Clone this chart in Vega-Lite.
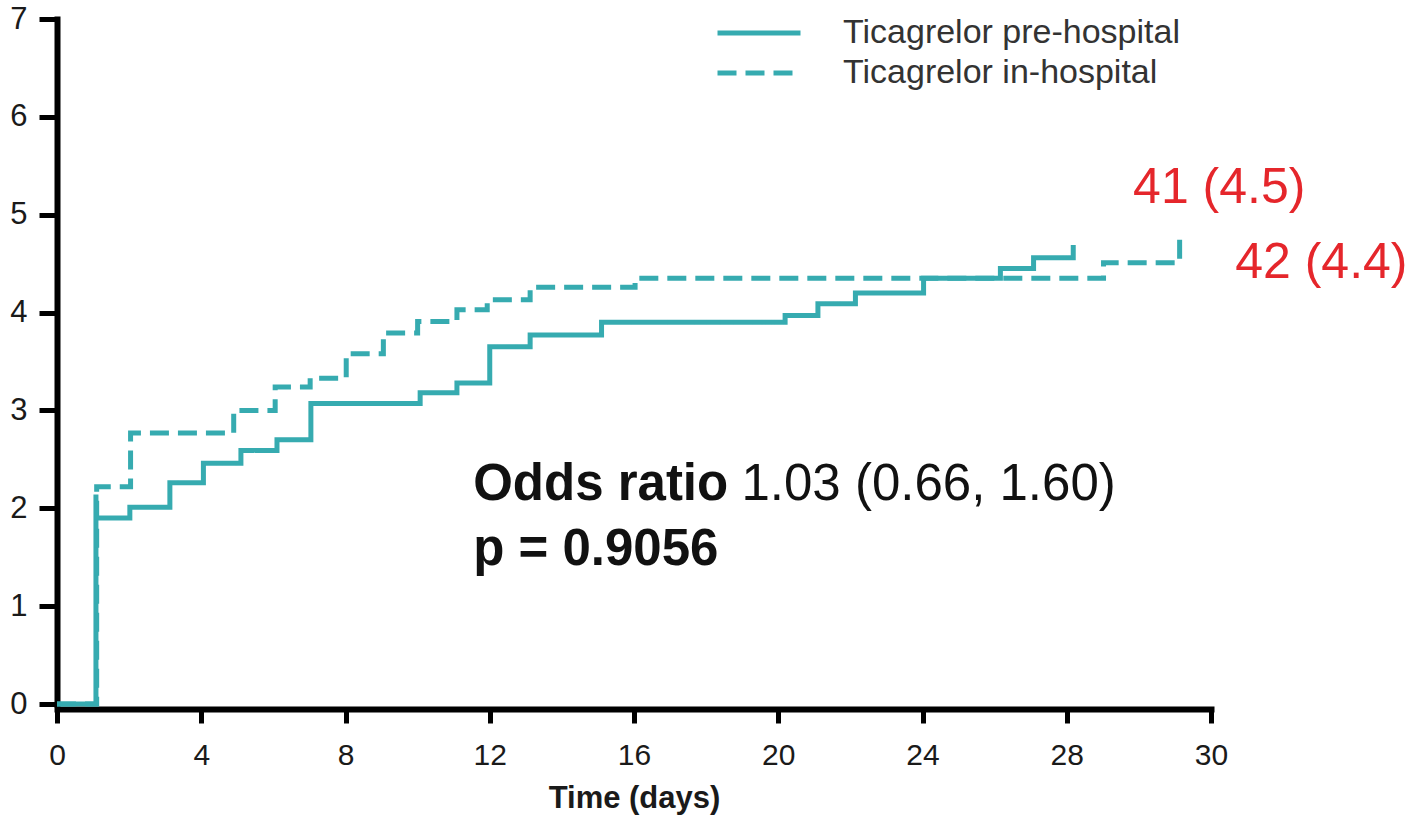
{
  "$schema": "https://vega.github.io/schema/vega-lite/v6.json",
  "width": 1154,
  "height": 685,
  "autosize": {"type": "none"},
  "padding": {"left": 57, "top": 19, "right": 211, "bottom": 118},
  "background": "white",
  "config": {"view": {"stroke": null}, "font": "Liberation Sans"},
  "layer": [
    {
      "data": {
        "values": [
          {"group": "Ticagrelor pre-hospital", "i": 0, "t": 0, "v": 0},
          {"group": "Ticagrelor pre-hospital", "i": 1, "t": 1.08, "v": 2.14},
          {"group": "Ticagrelor pre-hospital", "i": 2, "t": 1.08, "v": 1.9},
          {"group": "Ticagrelor pre-hospital", "i": 3, "t": 2.02, "v": 2.01},
          {"group": "Ticagrelor pre-hospital", "i": 4, "t": 3.13, "v": 2.26},
          {"group": "Ticagrelor pre-hospital", "i": 5, "t": 4.06, "v": 2.46},
          {"group": "Ticagrelor pre-hospital", "i": 6, "t": 5.1, "v": 2.59},
          {"group": "Ticagrelor pre-hospital", "i": 7, "t": 6.1, "v": 2.7},
          {"group": "Ticagrelor pre-hospital", "i": 8, "t": 7.04, "v": 3.07},
          {"group": "Ticagrelor pre-hospital", "i": 9, "t": 10.07, "v": 3.18},
          {"group": "Ticagrelor pre-hospital", "i": 10, "t": 11.09, "v": 3.28},
          {"group": "Ticagrelor pre-hospital", "i": 11, "t": 12.0, "v": 3.65},
          {"group": "Ticagrelor pre-hospital", "i": 12, "t": 13.12, "v": 3.77},
          {"group": "Ticagrelor pre-hospital", "i": 13, "t": 15.1, "v": 3.9},
          {"group": "Ticagrelor pre-hospital", "i": 14, "t": 20.19, "v": 3.97},
          {"group": "Ticagrelor pre-hospital", "i": 15, "t": 21.1, "v": 4.09},
          {"group": "Ticagrelor pre-hospital", "i": 16, "t": 22.14, "v": 4.2},
          {"group": "Ticagrelor pre-hospital", "i": 17, "t": 24.03, "v": 4.35},
          {"group": "Ticagrelor pre-hospital", "i": 18, "t": 26.16, "v": 4.45},
          {"group": "Ticagrelor pre-hospital", "i": 19, "t": 27.08, "v": 4.56},
          {"group": "Ticagrelor pre-hospital", "i": 20, "t": 28.18, "v": 4.69},
          {"group": "Ticagrelor in-hospital", "i": 0, "t": 0, "v": 0},
          {"group": "Ticagrelor in-hospital", "i": 1, "t": 1.1, "v": 2.22},
          {"group": "Ticagrelor in-hospital", "i": 2, "t": 2.04, "v": 2.77},
          {"group": "Ticagrelor in-hospital", "i": 3, "t": 4.9, "v": 3.0},
          {"group": "Ticagrelor in-hospital", "i": 4, "t": 6.05, "v": 3.24},
          {"group": "Ticagrelor in-hospital", "i": 5, "t": 7.02, "v": 3.33},
          {"group": "Ticagrelor in-hospital", "i": 6, "t": 8.02, "v": 3.58},
          {"group": "Ticagrelor in-hospital", "i": 7, "t": 9.05, "v": 3.79},
          {"group": "Ticagrelor in-hospital", "i": 8, "t": 10.0, "v": 3.91},
          {"group": "Ticagrelor in-hospital", "i": 9, "t": 11.09, "v": 4.03},
          {"group": "Ticagrelor in-hospital", "i": 10, "t": 11.93, "v": 4.13},
          {"group": "Ticagrelor in-hospital", "i": 11, "t": 13.12, "v": 4.26},
          {"group": "Ticagrelor in-hospital", "i": 12, "t": 16.03, "v": 4.35},
          {"group": "Ticagrelor in-hospital", "i": 13, "t": 29.02, "v": 4.51},
          {"group": "Ticagrelor in-hospital", "i": 14, "t": 31.13, "v": 4.78}
        ]
      },
      "mark": {"type": "line", "interpolate": "step-after", "strokeWidth": 5, "color": "#36ABB0", "strokeCap": "butt", "clip": false},
      "encoding": {
        "x": {
          "field": "t", "type": "quantitative",
          "scale": {"domain": [0, 32], "nice": false, "zero": false},
          "axis": {
            "values": [0, 4, 8, 12, 16, 20, 24, 28, 32],
            "labelExpr": "datum.value == 32 ? '30' : datum.label",
            "title": "Time (days)",
            "titleFontSize": 31, "titleFontWeight": "bold", "titleColor": "#1a1a1a", "titleFont": "Liberation Sans", "titlePadding": 13,
            "labelFontSize": 30, "labelColor": "#1a1a1a", "labelFont": "Liberation Sans", "labelPadding": 17,
            "tickSize": 14, "tickWidth": 5, "tickColor": "#000",
            "domainColor": "#000", "domainWidth": 6, "domainCap": "square",
            "offset": 5, "grid": false, "labelFlush": false, "labelOverlap": false
          }
        },
        "y": {
          "field": "v", "type": "quantitative",
          "scale": {"domain": [0, 7], "nice": false},
          "axis": {
            "values": [0, 1, 2, 3, 4, 5, 6, 7],
            "format": "d",
            "title": null,
            "labelFontSize": 31, "labelColor": "#1a1a1a", "labelFont": "Liberation Sans", "labelPadding": 12,
            "tickSize": 18, "tickWidth": 5, "tickColor": "#000",
            "domainColor": "#000", "domainWidth": 6, "domainCap": "square",
            "grid": false, "labelFlush": false
          }
        },
        "strokeDash": {
          "field": "group", "type": "nominal",
          "scale": {"domain": ["Ticagrelor pre-hospital", "Ticagrelor in-hospital"], "range": [[1, 0], [19, 9]]},
          "legend": {
            "orient": "none", "legendX": 658, "legendY": -5, "title": null,
            "symbolType": "stroke", "symbolSize": 6889, "symbolStrokeWidth": 5, "symbolStrokeColor": "#36ABB0",
            "labelFontSize": 34, "labelFont": "Liberation Sans", "labelColor": "#333333", "labelOffset": 40, "labelLimit": 0,
            "clipHeight": 38, "rowPadding": 2, "padding": 0
          }
        },
        "order": {"field": "i", "type": "quantitative"}
      }
    },
    {
      "data": {"values": [{}]},
      "mark": {"type": "text", "text": "41 (4.5)", "align": "left", "baseline": "alphabetic", "fontSize": 50, "color": "#E5262B", "font": "Liberation Sans"},
      "encoding": {"x": {"datum": 29.84}, "y": {"datum": 5.117}}
    },
    {
      "data": {"values": [{}]},
      "mark": {"type": "text", "text": "42 (4.4)", "align": "left", "baseline": "alphabetic", "fontSize": 50, "color": "#E5262B", "font": "Liberation Sans"},
      "encoding": {"x": {"datum": 32.67}, "y": {"datum": 4.35}}
    },
    {
      "data": {"values": [{}]},
      "mark": {"type": "text", "text": "Odds ratio", "align": "left", "baseline": "alphabetic", "fontSize": 51, "fontWeight": "bold", "color": "#111111", "font": "Liberation Sans"},
      "encoding": {"x": {"datum": 11.54}, "y": {"datum": 2.085}}
    },
    {
      "data": {"values": [{}]},
      "mark": {"type": "text", "text": "1.03 (0.66, 1.60)", "align": "left", "baseline": "alphabetic", "fontSize": 51, "color": "#111111", "font": "Liberation Sans"},
      "encoding": {"x": {"datum": 18.98}, "y": {"datum": 2.085}}
    },
    {
      "data": {"values": [{}]},
      "mark": {"type": "text", "text": "p = 0.9056", "align": "left", "baseline": "alphabetic", "fontSize": 51, "fontWeight": "bold", "color": "#111111", "font": "Liberation Sans"},
      "encoding": {"x": {"datum": 11.54}, "y": {"datum": 1.42}}
    }
  ]
}
